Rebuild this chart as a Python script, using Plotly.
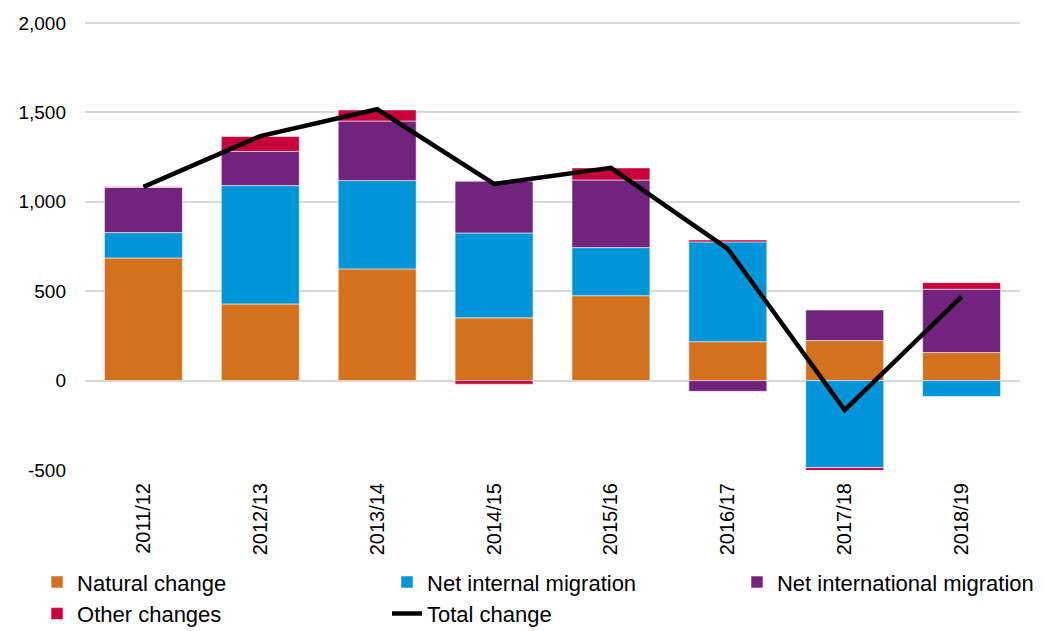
import plotly.graph_objects as go

years = ["2011/12", "2012/13", "2013/14", "2014/15", "2015/16", "2016/17", "2017/18", "2018/19"]
natural_change = [686, 429, 625, 351, 475, 218, 224, 157]
net_internal = [142, 662, 494, 475, 269, 558, -487, -89]
net_international = [253, 191, 333, 289, 378, -60, 171, 354]
other_changes = [3, 83, 62, -20, 68, 11, -26, 37]
total_change = [1084, 1368, 1518, 1100, 1190, 737, -165, 470]

y_tick_vals = [-500, 0, 500, 1000, 1500, 2000]
y_tick_text = ["-500", "0", "500", "1,000", "1,500", "2,000"]

FONT = "Liberation Sans, Arial, sans-serif"
sep = dict(width=1, color="rgba(255,255,255,0.55)")

fig = go.Figure()
fig.add_trace(go.Bar(x=years, y=natural_change, name="Natural change",
                     marker=dict(color="#D3711D", line=sep), legend="legend"))
fig.add_trace(go.Bar(x=years, y=net_internal, name="Net internal migration",
                     marker=dict(color="#0094D8", line=sep), legend="legend2"))
fig.add_trace(go.Bar(x=years, y=net_international, name="Net international migration",
                     marker=dict(color="#72237D", line=sep), legend="legend3"))
fig.add_trace(go.Bar(x=years, y=other_changes, name="Other changes",
                     marker=dict(color="#C8003C", line=sep), legend="legend"))
fig.add_trace(go.Scatter(x=years, y=total_change, name="Total change", mode="lines",
                         line=dict(color="black", width=4.5), legend="legend2"))

legend_common = dict(orientation="v", yanchor="top", xanchor="left",
                     font=dict(family=FONT, size=22, color="black"),
                     bgcolor="rgba(0,0,0,0)", traceorder="normal", tracegroupgap=0)

LEG_Y = -0.2036

fig.update_layout(
    width=1036, height=623,
    barmode="relative", bargap=0.333,
    plot_bgcolor="white", paper_bgcolor="white",
    margin=dict(l=77, r=24, t=14, b=161, autoexpand=False),
    font=dict(family=FONT, size=20, color="black"),
    xaxis=dict(tickangle=-90, showgrid=False, showline=False, ticks="",
               ticklabelstandoff=8,
               tickfont=dict(family=FONT, size=20, color="black")),
    yaxis=dict(range=[-500, 2006], tickvals=y_tick_vals, ticktext=y_tick_text,
               showgrid=True, gridcolor="#D9D9D9", gridwidth=2,
               zeroline=True, zerolinecolor="#D9D9D9", zerolinewidth=2,
               showline=False, ticks="", ticklabelstandoff=18,
               tickfont=dict(family=FONT, size=19, color="black")),
    legend=dict(x=-0.0513, y=LEG_Y, **legend_common),
    legend2=dict(x=0.3230, y=LEG_Y, **legend_common),
    legend3=dict(x=0.6973, y=LEG_Y, **legend_common),
)

fig.write_html("out.html")
